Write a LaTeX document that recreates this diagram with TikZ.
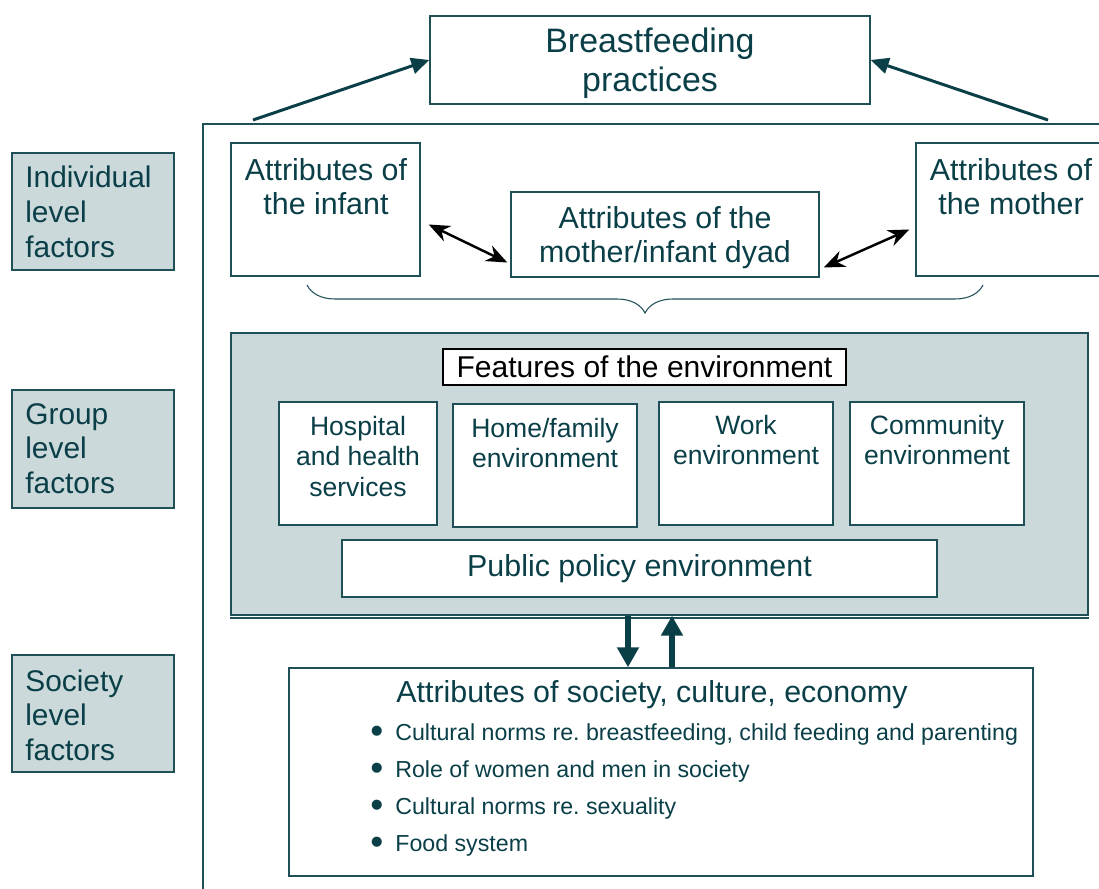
\documentclass[tikz,border=0pt]{standalone}
\usepackage{fontspec}
\usepackage{graphicx}
\setmainfont{Liberation Sans}
\usetikzlibrary{fit,arrows.meta,decorations.pathreplacing}
\definecolor{tealtext}{HTML}{0B3F48}
\definecolor{tealfill}{HTML}{CBD9DB}
\definecolor{tealline}{HTML}{1F4F57}
\frenchspacing
\begin{document}
\begin{tikzpicture}[x=0.02cm,y=-0.02cm,
  box/.style={draw=tealline,fill=white,line width=0.8pt,inner sep=0pt},
  shadebox/.style={box,fill=tealfill},
  txt/.style={text=tealtext,align=center,inner sep=0pt,font=\fontsize{17.3}{19.5}\selectfont},
  smalltxt/.style={txt,font=\fontsize{15.1}{17.3}\selectfont},
  sidetxt/.style={txt,align=left,font=\fontsize{17}{19.8}\selectfont},
  itemtxt/.style={text=tealtext,inner sep=0pt,font=\fontsize{13.2}{15}\selectfont},
  link/.style={{Stealth[length=0.42cm,width=0.34cm]}-{Stealth[length=0.42cm,width=0.34cm]},black,line width=1.4pt},
  lift/.style={-{Triangle[length=0.36cm,width=0.32cm]},draw=tealtext,line width=1.7pt},
  fat/.style={-{Triangle[length=0.4cm,width=0.42cm]},draw=tealtext,line width=3.4pt}]
\useasboundingbox (0,0) rectangle (1099,889);

% outer frame
\draw[tealline,line width=0.8pt] (1120,124) -- (203,124) -- (203,900);

% top
\node[box,fit={(430,16) (870,104)}] (bf) {};
\node[txt,font=\fontsize{19.3}{22.1}\selectfont] at ([shift={(0,3)}]bf.center) {Breastfeeding\\practices};
\coordinate (lt) at (253,120);
\coordinate (rt) at (1048,120);
\draw[lift] (lt) -- (bf.west);
\draw[lift] (rt) -- (bf.east);

% level labels
\node[shadebox,fit={(12,153) (174,270)}] (ind) {};
\node[sidetxt,anchor=north west] at (25,166) {Individual\\level\\factors};
\node[shadebox,fit={(12,390) (174,508)}] (grpl) {};
\node[sidetxt,anchor=north west] at (25,403) {Group\\level\\factors};
\node[shadebox,fit={(12,655) (174,772)}] (socl) {};
\node[sidetxt,anchor=north west] at (25,669) {Society\\level\\factors};

% individual level
\node[box,fit={(231,143) (420,276)}] (inf) {};
\node[txt,anchor=north] at (326,158) {Attributes of\\the infant};
\node[box,fit={(511,192) (819,277)}] (dyad) {};
\node[txt] at ([shift={(0,3)}]dyad.center) {Attributes of the\\mother/infant dyad};
\node[box,fit={(916,143) (1115,276)}] (mom) {};
\node[txt,anchor=north] at (1011,158) {Attributes of\\the mother};
\draw[link] ([shift={(8,15)}]inf.east) -- ([shift={(-3,28)}]dyad.west);
\draw[link] ([shift={(4,33)}]dyad.east) -- ([shift={(-6,20)}]mom.west);
\draw[tealline,line width=0.6pt,decorate,decoration={brace,mirror,amplitude=0.56cm}]
  (307,285) -- (983,285);

% group level
\node[shadebox,fit={(231,333) (1088,615)}] (grp) {};
\draw[tealline,line width=0.8pt] ([yshift=-1.2pt]grp.south west) -- ([yshift=-1.2pt]grp.south east);
\node[draw=black,fill=white,line width=0.8pt,inner sep=0pt,fit={(443,349) (846,385)}] (feat) {};
\node[txt,text=black,font=\fontsize{17.1}{19}\selectfont] at (feat.center) {Features of the environment};
\node[box,fit={(279,402) (437,525)}] (hosp) {};
\node[smalltxt,anchor=north] at (358,416) {Hospital\\and health\\services};
\node[box,fit={(453,404) (637,527)}] (home) {};
\node[smalltxt,anchor=north] at (545,418) {Home/family\\environment};
\node[box,fit={(659,402) (833,525)}] (work) {};
\node[smalltxt,anchor=north] at (746,415) {Work\\environment};
\node[box,fit={(850,402) (1024,525)}] (comm) {};
\node[smalltxt,anchor=north] at (937,415) {Community\\environment};
\node[box,fit={(342,540) (937,597)}] (pub) {};
\node[txt] at (pub.center) {Public policy environment};

% society level
\node[box,fit={(289,668) (1033,876)}] (soc) {};
\coordinate (dn) at (628,0);
\coordinate (up) at (672,0);
\draw[fat] (dn |- grp.south) -- (dn |- soc.north);
\draw[fat] (up |- soc.north) -- (up |- grp.south);
\node[txt,anchor=base west] at (396,702) {Attributes of society, culture, economy};
\foreach \t [count=\i from 0] in {{Cultural norms re. breastfeeding, child feeding and parenting},
    {Role of women and men in society},{Cultural norms re. sexuality},{Food system}}
  \node[itemtxt,anchor=base west] (it\i) at (370,{740+37*\i})
    {\raisebox{-0.15em}{\scalebox{1.6}{\textbullet}}\hspace{0.24cm}\t};
\end{tikzpicture}
\end{document}
